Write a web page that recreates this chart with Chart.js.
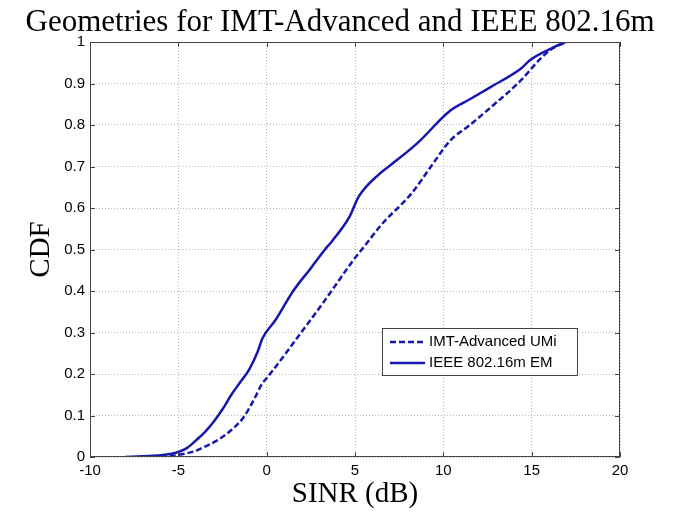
<!DOCTYPE html>
<html>
<head>
<meta charset="utf-8">
<script src="https://cdn.jsdelivr.net/npm/chart.js@4"></script>
<style>
  html, body { margin: 0; padding: 0; background: #fff; }
  #wrap { width: 685px; height: 513px; }
</style>
</head>
<body>
<div id="wrap"><canvas id="cdf" width="685" height="513"></canvas></div>
<script>
// IEEE 802.16m EM (solid)
const emSinr = [-8, -7, -6, -5.5, -5, -4.5, -4, -3.5, -3, -2.5, -2, -1.5, -1, -0.5, -0.25, 0.5, 1.5, 2.5, 3.3, 3.7, 4.7, 5.2, 6.4, 7, 8.5, 10.4, 11.5, 12.7, 14.4, 14.9, 16.1, 16.9];
const emCdf  = [0, 0.002, 0.004, 0.007, 0.012, 0.022, 0.04, 0.06, 0.085, 0.115, 0.15, 0.18, 0.21, 0.255, 0.285, 0.33, 0.40, 0.455, 0.50, 0.52, 0.58, 0.627, 0.683, 0.703, 0.755, 0.835, 0.862, 0.892, 0.936, 0.956, 0.984, 1.0];

// IMT-Advanced UMi (dashed)
const umiSinr = [-6.5, -5.5, -5, -4, -3.5, -2.8, -2, -1.3, -0.7, -0.25, 0, 1, 1.9, 3, 4, 4.9, 5.5, 6.5, 8.2, 9.3, 10.4, 11.5, 12.7, 14.4, 15.5, 16.2, 17];
const umiCdf  = [0, 0.002, 0.005, 0.015, 0.025, 0.04, 0.065, 0.096, 0.14, 0.177, 0.19, 0.245, 0.297, 0.36, 0.42, 0.474, 0.506, 0.56, 0.635, 0.70, 0.763, 0.80, 0.843, 0.908, 0.96, 0.985, 1.0];

const xTicks = [-10, -5, 0, 5, 10, 15, 20];
const yTicks = [0, 0.1, 0.2, 0.3, 0.4, 0.5, 0.6, 0.7, 0.8, 0.9, 1];

const seriesNames = ["IMT-Advanced UMi", "IEEE 802.16m EM"];
const chartTitle = "Geometries for IMT-Advanced and IEEE 802.16m";
const lineColor = "#1616b0";

function toPoints(xs, ys) {
    return xs.map((x, i) => ({ x: x, y: ys[i] }));
}

// title drawn over the whole figure width (matlab centres it a bit right of the axes)
const titlePlugin = {
    id: "figTitle",
    afterDraw(chart) {
        const ctx = chart.ctx;
        ctx.save();
        ctx.font = "31px 'Liberation Serif', 'Times New Roman', serif";
        ctx.fillStyle = "#000";
        ctx.textAlign = "center";
        ctx.textBaseline = "alphabetic";
        ctx.fillText(chartTitle, 340, 31);
        ctx.restore();
    }
};

// box around the plot plus matlab-style inner ticks
const framePlugin = {
    id: "frame",
    afterDatasetsDraw(chart) {
        const { ctx, chartArea: a, scales } = chart;
        ctx.save();
        ctx.strokeStyle = "#444";
        ctx.lineWidth = 1;
        ctx.strokeRect(a.left + 0.5, a.top + 0.5, a.right - a.left - 1, a.bottom - a.top - 1);
        ctx.beginPath();
        xTicks.forEach(v => {
            const px = Math.round(scales.x.getPixelForValue(v)) + 0.5;
            ctx.moveTo(px, a.bottom); ctx.lineTo(px, a.bottom - 5);
            ctx.moveTo(px, a.top); ctx.lineTo(px, a.top + 5);
        });
        yTicks.forEach(v => {
            const py = Math.round(scales.y.getPixelForValue(v)) + 0.5;
            ctx.moveTo(a.left, py); ctx.lineTo(a.left + 5, py);
            ctx.moveTo(a.right, py); ctx.lineTo(a.right - 5, py);
        });
        ctx.stroke();
        ctx.restore();
    }
};

// legend box inside the plot, lower right
const legendPlugin = {
    id: "boxLegend",
    afterDraw(chart) {
        const ctx = chart.ctx;
        const bx = 382, by = 328, bw = 195, bh = 47;
        ctx.save();
        ctx.fillStyle = "#fff";
        ctx.fillRect(bx, by, bw, bh);
        ctx.strokeStyle = "#444";
        ctx.lineWidth = 1;
        ctx.strokeRect(bx + 0.5, by + 0.5, bw, bh);
        ctx.font = "15px 'Liberation Sans', Arial, sans-serif";
        ctx.textBaseline = "middle";
        chart.data.datasets.forEach((ds, i) => {
            const y = by + 14 + i * 21;
            ctx.strokeStyle = ds.borderColor;
            ctx.lineWidth = ds.borderWidth;
            ctx.setLineDash(ds.borderDash || []);
            ctx.beginPath();
            ctx.moveTo(bx + 8, y);
            ctx.lineTo(bx + 43, y);
            ctx.stroke();
            ctx.setLineDash([]);
            ctx.fillStyle = "#000";
            ctx.fillText(ds.label, bx + 47, y);
        });
        ctx.restore();
    }
};

const gridStyle = {
    color: "#b8b8b8",
    lineWidth: 1,
    drawTicks: false,
    tickLength: 0
};

new Chart(document.getElementById("cdf"), {
    type: "line",
    data: {
        datasets: [
            {
                label: seriesNames[0],
                data: toPoints(umiSinr, umiCdf),
                borderColor: lineColor,
                borderWidth: 2.5,
                borderDash: [6, 3],
                pointRadius: 0,
                cubicInterpolationMode: "monotone",
                fill: false
            },
            {
                label: seriesNames[1],
                data: toPoints(emSinr, emCdf),
                borderColor: lineColor,
                borderWidth: 2.5,
                pointRadius: 0,
                cubicInterpolationMode: "monotone",
                fill: false
            }
        ]
    },
    options: {
        responsive: false,
        animation: false,
        layout: { padding: { left: 0, right: 65, top: 42, bottom: 0 } },
        plugins: {
            legend: { display: false },
            tooltip: { enabled: false },
            title: { display: false }
        },
        scales: {
            x: {
                type: "linear",
                min: -10,
                max: 20,
                afterBuildTicks(scale) { scale.ticks = xTicks.map(v => ({ value: v })); },
                afterFit(scale) { scale.height = 56; },
                grid: Object.assign({}, gridStyle),
                border: { display: false, dash: [1, 2] },
                ticks: {
                    color: "#000",
                    padding: 5,
                    maxRotation: 0,
                    font: { family: "'Liberation Sans', Arial, sans-serif", size: 15 }
                },
                title: {
                    display: true,
                    text: "SINR (dB)",
                    color: "#000",
                    font: { family: "'Liberation Serif', 'Times New Roman', serif", size: 29 },
                    padding: { top: 0, bottom: 1 }
                }
            },
            y: {
                min: 0,
                max: 1,
                afterBuildTicks(scale) { scale.ticks = yTicks.map(v => ({ value: v })); },
                afterFit(scale) { scale.width = 90; },
                grid: Object.assign({}, gridStyle),
                border: { display: false, dash: [1, 2] },
                ticks: {
                    color: "#000",
                    padding: 5,
                    font: { family: "'Liberation Sans', Arial, sans-serif", size: 15 },
                    callback: v => String(v)
                },
                title: {
                    display: true,
                    text: "CDF",
                    color: "#000",
                    font: { family: "'Liberation Serif', 'Times New Roman', serif", size: 29 },
                    padding: { top: 24, bottom: 0 }
                }
            }
        }
    },
    plugins: [framePlugin, legendPlugin, titlePlugin]
});
</script>
</body>
</html>
